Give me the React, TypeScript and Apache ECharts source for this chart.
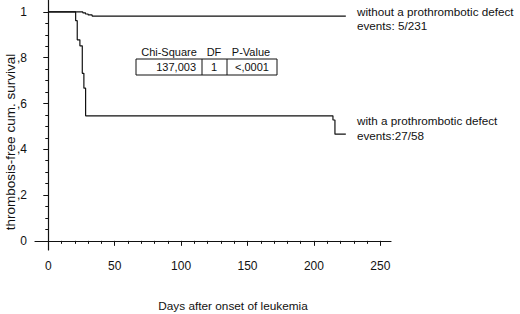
import React, { useEffect, useRef } from "react";
import * as echarts from "echarts";

// Kaplan-Meier curves (days, survival)
const withoutDays = [0, 26, 28, 30, 33, 224];
const withoutSurv = [1, 0.996, 0.991, 0.987, 0.982, 0.982];
const withDays = [0, 20.6, 21.8, 23.8, 25.6, 26.8, 28.1, 214.3, 215.8, 224];
const withSurv = [1, 0.962, 0.878, 0.852, 0.732, 0.667, 0.546, 0.528, 0.466, 0.466];

const xMajorTicks = [0, 50, 100, 150, 200, 250];
const xMinorTicks = [10, 20, 30, 40, 60, 70, 80, 90, 110, 120, 130, 140, 160, 170, 180, 190, 210, 220, 230, 240];
const yMajorTicks = [0, 0.2, 0.4, 0.6, 0.8, 1];
const yMinorTicks = [0.05, 0.1, 0.15, 0.25, 0.3, 0.35, 0.45, 0.5, 0.55, 0.65, 0.7, 0.75, 0.85, 0.9, 0.95];

const tableHeaders = ["Chi-Square", "DF", "P-Value"];
const tableValues = ["137,003", "1", "<,0001"];
const seriesLabels = [
  ["without a prothrombotic defect", "events: 5/231"],
  ["with a prothrombotic defect", "events:27/58"],
];
const xTitle = "Days after onset of leukemia";
const yTitle = "thrombosis-free cum. survival";

const FONT = "Liberation Sans";
const INK = "#111";

export default function App() {
  const ref = useRef<HTMLDivElement>(null);
  useEffect(() => {
    if (!ref.current) return;
    const chart = echarts.init(ref.current, undefined, { renderer: "svg" });
    const fmtY = (v: number) => {
      if (v === 0) return "0";
      if (v === 1) return "1";
      return "," + Math.round(v * 10);
    };
    const txt = (text: string, x: number, y: number, size = 12, align = "left") => ({
      type: "text",
      x,
      y,
      style: {
        text,
        fill: INK,
        fontFamily: FONT,
        fontSize: size,
        align,
        verticalAlign: "middle",
      },
    });
    const option: any = {
      animation: false,
      grid: { left: 35, top: 0.5, width: 356, height: 249.5, containLabel: false },
      xAxis: [
        {
          type: "value",
          min: -10,
          max: 258,
          axisLine: { show: true, lineStyle: { color: INK, width: 1.2 } },
          axisTick: { show: true, customValues: xMajorTicks, length: 5, lineStyle: { color: INK } },
          axisLabel: {
            show: true,
            customValues: xMajorTicks,
            color: INK,
            fontFamily: FONT,
            fontSize: 12,
            margin: 10,
          },
          splitLine: { show: false },
        },
        {
          type: "value",
          position: "bottom",
          min: -10,
          max: 258,
          axisLine: { show: false },
          axisTick: { show: true, customValues: xMinorTicks, length: 3, lineStyle: { color: INK } },
          axisLabel: { show: false },
          splitLine: { show: false },
        },
      ],
      yAxis: [
        {
          type: "value",
          min: -0.04,
          max: 1.05,
          axisLine: { show: true, lineStyle: { color: INK, width: 1.2 } },
          axisTick: { show: true, customValues: yMajorTicks, length: 5, lineStyle: { color: INK } },
          axisLabel: {
            show: true,
            customValues: yMajorTicks,
            formatter: fmtY,
            color: INK,
            fontFamily: FONT,
            fontSize: 12,
            margin: 8,
          },
          splitLine: { show: false },
        },
        {
          type: "value",
          position: "left",
          min: -0.04,
          max: 1.05,
          axisLine: { show: false },
          axisTick: { show: true, customValues: yMinorTicks, length: 3, lineStyle: { color: INK } },
          axisLabel: { show: false },
          splitLine: { show: false },
        },
      ],
      series: [
        {
          type: "line",
          step: "end",
          data: withoutDays.map((d, i) => [d, withoutSurv[i]]),
          symbol: "none",
          lineStyle: { color: INK, width: 1.2 },
          xAxisIndex: 0,
          yAxisIndex: 0,
        },
        {
          type: "line",
          step: "end",
          data: withDays.map((d, i) => [d, withSurv[i]]),
          symbol: "none",
          lineStyle: { color: INK, width: 1.2 },
          xAxisIndex: 0,
          yAxisIndex: 0,
        },
      ],
      graphic: [
        txt(seriesLabels[0][0], 357, 11, 11.7),
        txt(seriesLabels[0][1], 357, 25, 11.7),
        txt(seriesLabels[1][0], 357, 120, 11.7),
        txt(seriesLabels[1][1], 357, 135, 11.7),
        txt(xTitle, 233, 306, 11.8, "center"),
        {
          type: "text",
          x: 10,
          y: 142,
          rotation: Math.PI / 2,
          style: {
            text: yTitle,
            fill: INK,
            fontFamily: FONT,
            fontSize: 13.5,
            align: "center",
            verticalAlign: "middle",
          },
        },
        // table
        {
          type: "rect",
          shape: { x: 136, y: 59, width: 141, height: 16 },
          style: { fill: "none", stroke: INK, lineWidth: 1 },
        },
        { type: "line", shape: { x1: 202, y1: 59, x2: 202, y2: 75 }, style: { stroke: INK, lineWidth: 1 } },
        { type: "line", shape: { x1: 227, y1: 59, x2: 227, y2: 75 }, style: { stroke: INK, lineWidth: 1 } },
        txt(tableHeaders[0], 169, 52, 11, "center"),
        txt(tableHeaders[1], 214, 52, 11, "center"),
        txt(tableHeaders[2], 251, 52, 11, "center"),
        txt(tableValues[0], 196, 67, 11, "right"),
        txt(tableValues[1], 214, 67, 11, "center"),
        txt(tableValues[2], 235, 67, 11, "left"),
      ],
    };
    chart.setOption(option);
    return () => chart.dispose();
  }, []);
  return (
    <div
      ref={ref}
      style={{ position: "absolute", left: 0, top: 0, width: 520, height: 314 }}
    />
  );
}
